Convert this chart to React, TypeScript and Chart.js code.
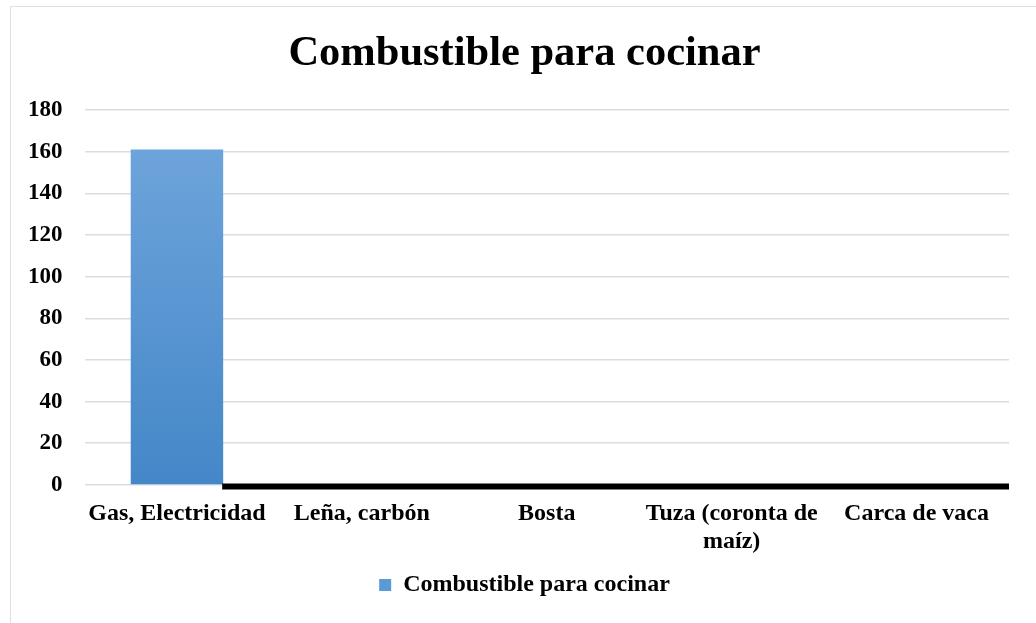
import React, { useEffect, useRef } from "react";
import { Chart, registerables } from "chart.js";

Chart.register(...registerables);

const categories: (string | string[])[] = [
  "Gas, Electricidad",
  "Leña, carbón",
  "Bosta",
  ["Tuza (coronta de", "maíz)"],
  "Carca de vaca",
];
const seriesName = "Combustible para cocinar";
const seriesValues = [161, 0, 0, 0, 0];
const yTicks = [0, 20, 40, 60, 80, 100, 120, 140, 160, 180];

const FONT = "'Liberation Serif', 'Times New Roman', serif";

// Heavy black baseline running from the right edge of the first bar to the end of the plot
const baselinePlugin = {
  id: "baseline",
  afterDraw(chart: any) {
    const meta = chart.getDatasetMeta(0);
    const first = meta.data[0] as any;
    if (!first) return;
    const y = chart.scales.y.getPixelForValue(0) + 1.5;
    const ctx = chart.ctx;
    ctx.save();
    ctx.strokeStyle = "#000000";
    ctx.lineWidth = 6;
    ctx.beginPath();
    ctx.moveTo(first.x + first.width / 2 - 1, y);
    ctx.lineTo(chart.chartArea.right, y);
    ctx.stroke();
    ctx.restore();
  },
};

// Centre the title and legend on the framed panel rather than on the padded layout box
const CENTER_SHIFT = 34;
const centerPlugin = {
  id: "centerBlocks",
  afterLayout(chart: any) {
    if (chart.titleBlock) chart.titleBlock.left += CENTER_SHIFT;
    if (chart.legend) chart.legend.left += CENTER_SHIFT;
  },
};

export default function App() {
  const canvasRef = useRef<HTMLCanvasElement | null>(null);

  useEffect(() => {
    if (!canvasRef.current) return;
    const chart = new Chart(canvasRef.current, {
      type: "bar",
      data: {
        labels: categories,
        datasets: [
          {
            label: seriesName,
            data: seriesValues,
            backgroundColor: (ctx: any) => {
              const area = ctx.chart.chartArea;
              if (!area) return "#5b9bd5";
              const g = ctx.chart.ctx.createLinearGradient(0, area.top, 0, area.bottom);
              g.addColorStop(0, "#72a7dd");
              g.addColorStop(1, "#4487c8");
              return g;
            },
            borderWidth: 0,
            barPercentage: 1,
            categoryPercentage: 0.5,
          },
        ],
      },
      options: {
        animation: false,
        responsive: false,
        maintainAspectRatio: false,
        layout: { autoPadding: false, padding: { left: 6, right: 27, top: 0, bottom: 16 } },
        plugins: {
          title: {
            display: true,
            text: seriesName,
            color: "#000000",
            font: { family: FONT, size: 42.5, weight: "bold" },
            padding: { top: 29, bottom: 30 },
          },
          legend: {
            display: true,
            position: "bottom",
            labels: {
              color: "#000000",
              font: { family: FONT, size: 24, weight: "bold" },
              boxWidth: 12,
              boxHeight: 12,
              padding: 10.5,
              generateLabels: () => [
                {
                  text: seriesName,
                  fillStyle: "#5b9bd5",
                  strokeStyle: "#5b9bd5",
                  lineWidth: 0,
                  datasetIndex: 0,
                  hidden: false,
                },
              ],
            },
          },
          tooltip: { enabled: false },
        },
        scales: {
          x: {
            grid: { display: false },
            border: { display: false },
            ticks: {
              color: "#000000",
              font: { family: FONT, size: 24, weight: "bold" },
              padding: 6,
              maxRotation: 0,
              autoSkip: false,
            },
          },
          y: {
            min: 0,
            max: 180,
            z: 1,
            afterBuildTicks: (axis: any) => {
              axis.ticks = yTicks.map((v) => ({ value: v }));
            },
            grid: { color: "#d9dde3", lineWidth: 1.5, drawTicks: false },
            border: { display: false },
            ticks: {
              color: "#000000",
              font: { family: FONT, size: 23, weight: "bold" },
              padding: 22,
            },
          },
        },
      },
      plugins: [baselinePlugin, centerPlugin],
    });
    return () => chart.destroy();
  }, []);

  return (
    <div style={{ position: "fixed", left: 0, top: 0, width: 1036, height: 623, background: "#ffffff" }}>
      <div
        style={{
          position: "absolute",
          left: 10,
          top: 6,
          right: 0,
          bottom: 0,
          borderTop: "1.5px solid #dde1e6",
          borderLeft: "1.5px solid #dde1e6",
        }}
      />
      <canvas
        ref={canvasRef}
        width={1036}
        height={623}
        style={{ position: "absolute", left: 0, top: 0, width: 1036, height: 623 }}
      />
    </div>
  );
}
